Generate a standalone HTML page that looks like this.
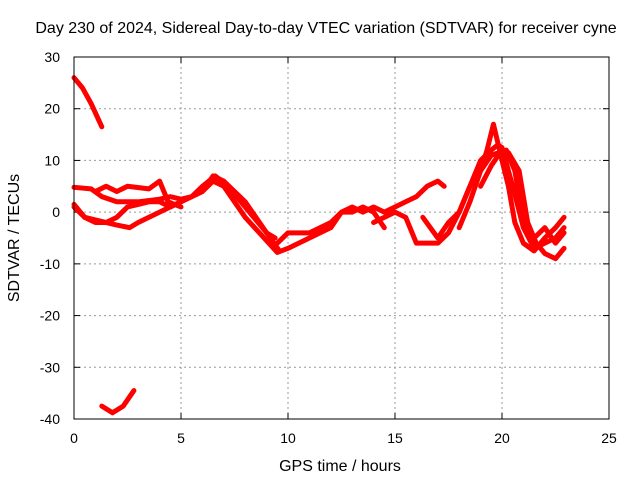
<!DOCTYPE html>
<html><head><meta charset="utf-8"><style>
body{margin:0;background:#fff}
svg{font-family:"Liberation Sans",sans-serif;font-size:14px}
.big{font-size:16px}
</style></head><body>
<svg id="chart" width="640" height="480">
<text class="big" x="326" y="33" text-anchor="middle">Day 230 of 2024, Sidereal Day-to-day VTEC variation (SDTVAR) for receiver cyne</text>
<text class="big" x="340" y="471" text-anchor="middle">GPS time / hours</text>
<text class="big" transform="translate(19,238) rotate(-90)" text-anchor="middle">SDTVAR / TECUs</text>
<g id="grid"></g><g id="series"></g>
<rect x="74" y="57" width="535" height="362" fill="none" stroke="#000"/>
</svg>
<script>
const xTicks=[0,5,10,15,20,25];
const yTicks=[-40,-30,-20,-10,0,10,20,30];
const t1=[0,0.4,0.8,1.3];const v1=[26,24,21,16.5];
const t2=[1.3,1.8,2.3,2.8];const v2=[-37.5,-38.8,-37.5,-34.5];
const t3=[0,0.8,1.3,2,3,4,4.5,5,5.5,6,6.6,7.2,8,9,9.6];const v3=[4.8,4.5,3,2,2,2.5,3,2.5,3,5,7,5,1,-4,-7.5];
const t4=[0,0.5,1,1.5,2,2.5,3,3.5,4,4.5,5,5.5,6,6.5,7,8,9,9.4];const v4=[1.5,-1,-2,-2,-1,1,1.5,2,2,1,2,3,4,7,6,2,-4,-5];
const t5=[0,0.5,1,2,2.6,3,4,5,6,6.5,7,8,9.5,10,11,12,12.5,13,13.5,14,14.5];const v5=[1,-1,-1.5,-2.5,-3,-2,0,2,4,6,5,-1,-7.8,-7,-5,-3,0,0,1,0,-3];
const t6=[1,1.5,2,2.5,3.5,4,4.4,5];const v6=[4,5,4,5,4.5,6,2,1];
const t7=[9.5,10,11,12,12.5,13,13.5,14,14.5,15,15.5,16,16.5,17,17.3];const v7=[-6,-4,-4,-2,0,1,0,1,0,1,2,3,5,6,5];
const t8=[14,14.5,15,15.5,16,16.5,17,17.5,18,18.5,19,19.5,19.8,20,20.5,21,21.5,22,22.5,22.9];const v8=[-2,-1,0,-1,-6,-6,-6,-4,0,5,10,12,13,12.5,5,-3,-7,-6,-5,-3];
const t9=[18,18.5,19,19.3,19.6,20,20.3,20.6,21,21.5,22,22.5,22.9];const v9=[-3,2,8,12,17,10,5,-2,-6,-7.5,-5,-3,-1];
const t10=[19,19.5,20,20.3,20.8,21.2,21.6,22,22.5,22.9];const v10=[5,9,12,11.5,8,-2,-6,-8,-9,-7];
const t11=[16.3,17,17.5,18,18.5,19,19.5,20.2,20.6,21,21.5,22,22.5,22.9];const v11=[-1,-5,-2,0,5,8,11,12,8,-2,-5,-3,-6,-4];
const tracks=[[t1,v1],[t2,v2],[t3,v3],[t4,v4],[t5,v5],[t6,v6],[t7,v7],[t8,v8],[t9,v9],[t10,v10],[t11,v11]];
const X=t=>74+t*535/25, Y=v=>57+(30-v)*362/70;
const NS="http://www.w3.org/2000/svg";
const g=document.getElementById('grid'), s=document.getElementById('series');
function mk(tag,a,p){const e=document.createElementNS(NS,tag);for(const k in a)e.setAttribute(k,a[k]);p.appendChild(e);return e;}
xTicks.forEach(t=>{
 if(t>0&&t<25){const l=mk('line',{x1:X(t),x2:X(t),y1:57,y2:419,stroke:'#999','stroke-dasharray':'2,3'},g);
 
 }
 mk('line',{x1:X(t),x2:X(t),y1:419,y2:413,stroke:'#000'},g);
 mk('line',{x1:X(t),x2:X(t),y1:57,y2:63,stroke:'#000'},g);
 const tx=mk('text',{x:X(t),y:443,'text-anchor':'middle'},g);tx.textContent=t;
 
 
});
yTicks.forEach(v=>{
 if(v>-40&&v<30){const l=mk('line',{x1:74,x2:609,y1:Y(v),y2:Y(v),stroke:'#999','stroke-dasharray':'2,3'},g);
 
 }
 mk('line',{x1:74,x2:80,y1:Y(v),y2:Y(v),stroke:'#000'},g);
 mk('line',{x1:603,x2:609,y1:Y(v),y2:Y(v),stroke:'#000'},g);
 const tx=mk('text',{x:60,y:Y(v)+5,'text-anchor':'end'},g);tx.textContent=v;
 
 
});
tracks.forEach(([ts,vs])=>{
 const pts=ts.map((t,i)=>X(t)+','+Y(vs[i])).join(' ');
 const p=mk('polyline',{points:pts,fill:'none',stroke:'#f00','stroke-width':5,'stroke-linejoin':'round','stroke-linecap':'round'},s);
 
 
});
</script>
</body></html>
